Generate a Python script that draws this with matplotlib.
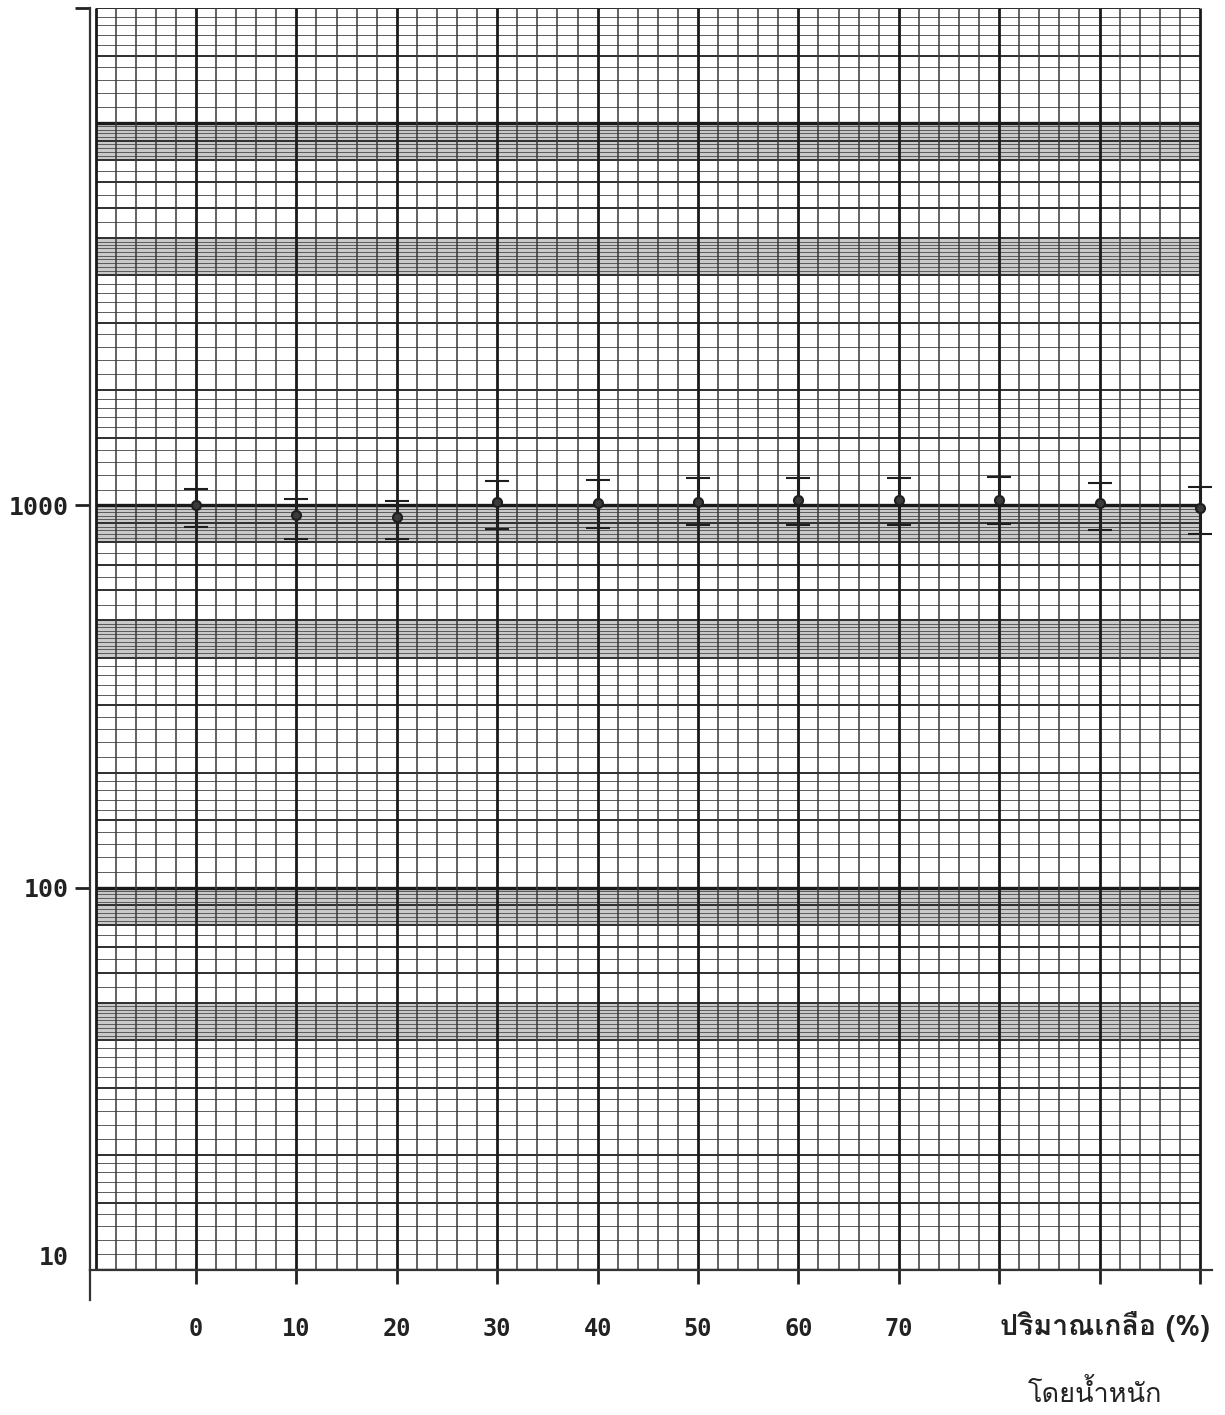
import matplotlib
matplotlib.use("Agg")
import matplotlib.pyplot as plt
import numpy as np
from matplotlib import font_manager
from matplotlib.ft2font import FT2Font
from matplotlib.lines import Line2D

salt = [0, 10, 20, 30, 40, 50, 60, 70, 80, 90, 100]
value = [1000, 942, 930, 1018, 1012, 1018, 1030, 1030, 1030, 1012, 982]
upper = [1107, 1037, 1024, 1155, 1162, 1176, 1176, 1176, 1183, 1141, 1114]
lower = [876, 815, 815, 866, 871, 887, 887, 887, 892, 861, 840]

x_ticks = [0, 10, 20, 30, 40, 50, 60, 70, 80, 90, 100]
x_labels = ["0", "10", "20", "30", "40", "50", "60", "70", "", "", ""]
y_ticks = [10, 100, 1000, 20000]
y_labels = ["10", "100", "1000", ""]

x_title = "ปริมาณเกลือ (%)"
x_title2 = "โดยน้ำหนัก"


def find_thai_font():
    for f in font_manager.fontManager.ttflist:
        try:
            if ord("ป") in FT2Font(f.fname).get_charmap():
                return f.name
        except Exception:
            pass
    return "DejaVu Sans"


thai = find_thai_font()
mono = ["DejaVu Sans Mono", "DejaVu Sans"]

fig = plt.figure(figsize=(12.25, 14.15), dpi=100)
ax = fig.add_axes([90 / 1225, 1 - 1270 / 1415, 1122 / 1225, 1262 / 1415])
ax.set_yscale("log")
ax.set_xlim(-10.56, 101.2)
ax.set_ylim(10, 20000)

# --- the printed log paper ---
px0, px1 = -10, 100
for d in [10, 100, 1000, 10000]:
    for lo, hi in [(4, 5), (8, 10)]:
        if hi * d <= 20000:
            ax.fill_between([px0, px1], lo * d, hi * d, color="#c9c9c9", lw=0, zorder=0)
    thin = np.concatenate([np.arange(1.1, 2.0, 0.1), np.arange(2.2, 4.0, 0.2),
                           np.arange(4.1, 5.0, 0.1), np.arange(5.5, 8.0, 0.5),
                           np.arange(8.2, 10.0, 0.2)])
    thin = thin[np.abs(thin - np.round(thin)) > 1e-6]
    thin = thin[np.abs(thin - 1.5) > 1e-6]
    ys = thin * d
    ys = ys[ys <= 20000]
    ax.hlines(ys, px0, px1, color="#5a5a5a", lw=0.7, zorder=1)
    mids = np.array([1.5, 2, 3, 4, 5, 6, 7, 8, 9]) * d
    mids = mids[mids <= 20000]
    ax.hlines(mids, px0, px1, color="#2e2e2e", lw=1.4, zorder=1)
    ax.hlines([d], px0, px1, color="#1a1a1a", lw=2.4, zorder=1)
ax.hlines([20000], px0, px1, color="#2e2e2e", lw=1.4, zorder=1)

vx = np.arange(px0, px1 + 1, 2)
ax.vlines(vx[vx % 10 != 0], 10, 20000, color="#383838", lw=1.1, zorder=1)
ax.vlines(vx[vx % 10 == 0], 10, 20000, color="#1a1a1a", lw=2.0, zorder=1)

# --- measured points ---
yerr = [np.array(value) - np.array(lower), np.array(upper) - np.array(value)]
ax.errorbar(salt, value, yerr=yerr, fmt="o", ms=6.5, color="#1e1e1e",
            mfc="#3a3a3a", mec="#1e1e1e", mew=1.5, ecolor="#1e1e1e",
            elinewidth=2.2, capsize=8.5, capthick=2.4, zorder=5)

# --- axes ---
for s in ["top", "right"]:
    ax.spines[s].set_visible(False)
for s in ["left", "bottom"]:
    ax.spines[s].set_linewidth(1.6)
    ax.spines[s].set_color("#333333")
ax.add_line(Line2D([0, 0], [0, -0.024], transform=ax.transAxes, color="#333333",
                   lw=1.6, clip_on=False))

ax.set_xticks(x_ticks)
ax.set_xticklabels(x_labels, fontfamily=mono, fontweight="bold", fontsize=17, color="#222222")
ax.xaxis.set_minor_locator(plt.NullLocator())
ax.tick_params(axis="x", direction="out", length=10, width=2, color="#222222", pad=24)

ax.set_yticks(y_ticks)
ax.set_yticklabels(y_labels, fontfamily=mono, fontweight="bold", fontsize=18, color="#222222")
ax.yaxis.set_minor_locator(plt.NullLocator())
ax.tick_params(axis="y", direction="out", length=11, width=2, color="#222222", pad=4)
ax.yaxis.get_major_ticks()[0].tick1line.set_visible(False)
ax.yaxis.get_major_ticks()[0].label1.set_verticalalignment("bottom")

ax.text(1105 / 1225, 1 - 1326 / 1415, x_title, transform=fig.transFigure,
        ha="center", va="center", fontsize=20.5, fontweight="bold",
        family=[thai, "DejaVu Sans"], color="#222222")
ax.text(1095 / 1225, 1 - 1393 / 1415, x_title2, transform=fig.transFigure,
        ha="center", va="center", fontsize=19.5,
        family=[thai, "DejaVu Sans"], color="#222222")

fig.savefig("out.png", dpi=100, facecolor="white")
